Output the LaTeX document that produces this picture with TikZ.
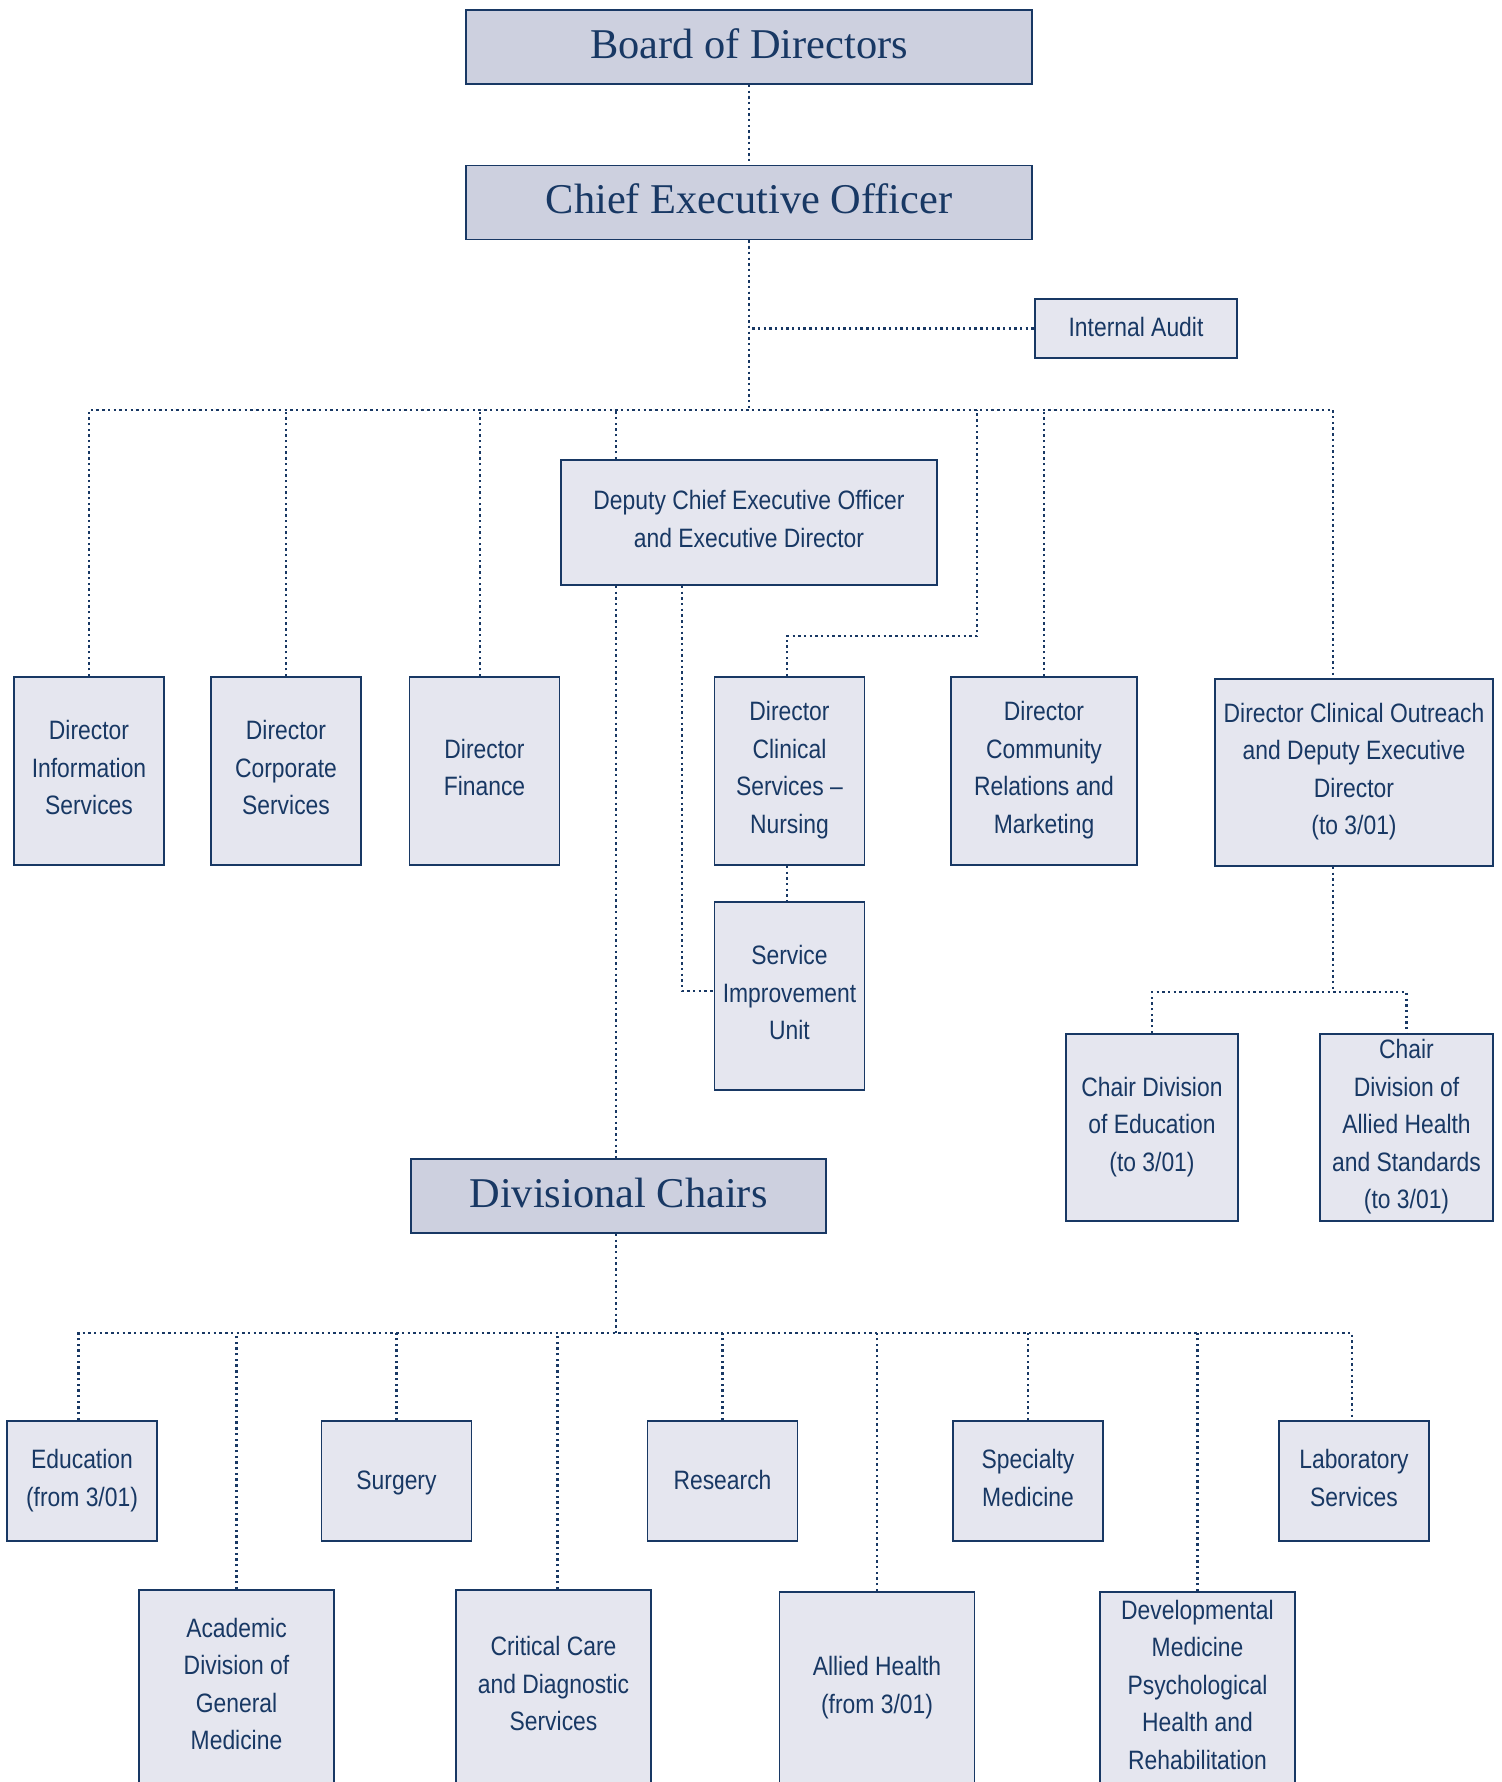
\documentclass[tikz,border=0pt]{standalone}
\usepackage{fontspec}
\newfontfamily\boxfont[FakeStretch=0.86]{Liberation Sans}
\newfontfamily\titlefont{Liberation Serif}
\definecolor{navy}{RGB}{24,56,100}
\definecolor{titlefill}{RGB}{205,208,223}
\definecolor{boxfill}{RGB}{229,230,239}
\newcommand\boxstrut{\rule[-3.4pt]{0pt}{14.9pt}}
\tikzset{
  basebox/.style={draw=navy, line width=0.9pt, text=navy, inner sep=0pt, align=center, anchor=center},
  titlebox/.style={basebox, fill=titlefill, font=\titlefont\fontsize{21.2}{24}\selectfont, minimum height=37pt, text height=14pt, text depth=2.8pt},
  orgbox/.style={basebox, fill=boxfill, font=\boxfont\fontsize{13.3}{18.75}\selectfont,
    execute at begin node=\boxstrut, execute at end node=\boxstrut},
  link/.style={draw=navy, line width=1.3pt, dash pattern=on 1.2pt off 1.65pt}
}
\begin{document}
\begin{tikzpicture}[x=0.5pt,y=-0.5pt]
\useasboundingbox (0,0) rectangle (1502,1782);
\clip (0,0) rectangle (1502,1782);
\fill[white] (0,0) rectangle (1502,1782);

% titles
\node[titlebox, minimum width=283pt] (board) at (749,47) {Board of Directors};
\node[titlebox, minimum width=283pt] (ceo) at (749,202.5) {Chief Executive Officer};
\node[titlebox, minimum width=207.5pt] (divc) at (618.5,1196) {Divisional Chairs};

% top level
\node[orgbox, minimum width=101pt, minimum height=29.5pt] (audit) at (1136,328.5) {Internal Audit};
\node[orgbox, minimum width=188pt, minimum height=62.5pt] (deputy) at (749,522.5) {Deputy Chief Executive Officer\\and Executive Director};

% directors row
\node[orgbox, minimum width=75pt, minimum height=94pt] (dis) at (89,771) {Director\\Information\\Services};
\node[orgbox, minimum width=75pt, minimum height=94pt] (dcs) at (286,771) {Director\\Corporate\\Services};
\node[orgbox, minimum width=75pt, minimum height=94pt] (fin) at (484.5,771) {Director\\Finance};
\node[orgbox, minimum width=75pt, minimum height=94pt] (nurs) at (789.5,771) {Director\\Clinical\\Services –\\Nursing};
\node[orgbox, minimum width=93pt, minimum height=94pt] (comm) at (1044,771) {Director\\Community\\Relations and\\Marketing};
\node[orgbox, minimum width=139pt, minimum height=93.5pt] (outr) at (1354,772.5) {Director Clinical Outreach\\and Deputy Executive\\Director\\(to 3/01)};

\node[orgbox, minimum width=75pt, minimum height=94pt] (siu) at (789.5,996) {Service\\Improvement\\Unit};
\node[orgbox, minimum width=86pt, minimum height=93.5pt] (ched) at (1152,1127.5) {Chair Division\\of Education\\(to 3/01)};
\node[orgbox, minimum width=86.5pt, minimum height=93.5pt] (chah) at (1406.5,1127.5) {Chair\\Division of\\Allied Health\\and Standards\\(to 3/01)};

% divisions row 1
\node[orgbox, minimum width=75pt, minimum height=60pt] (edu) at (82,1481) {Education\\(from 3/01)};
\node[orgbox, minimum width=75pt, minimum height=60pt] (surg) at (396.5,1481) {Surgery};
\node[orgbox, minimum width=75pt, minimum height=60pt] (res) at (722.5,1481) {Research};
\node[orgbox, minimum width=75pt, minimum height=60pt] (spec) at (1028,1481) {Specialty\\Medicine};
\node[orgbox, minimum width=75pt, minimum height=60pt] (lab) at (1354,1481) {Laboratory\\Services};

% divisions row 2
\node[orgbox, minimum width=97.5pt, minimum height=97pt] (acad) at (236.5,1687) {Academic\\Division of\\General\\Medicine};
\node[orgbox, minimum width=97.5pt, minimum height=97pt] (crit) at (553.5,1687) {Critical Care\\and Diagnostic\\Services};
\node[orgbox, minimum width=97.5pt, minimum height=96pt] (allied) at (877,1688) {Allied Health\\(from 3/01)};
\node[orgbox, minimum width=97.5pt, minimum height=96pt] (dev) at (1197.5,1688) {Developmental\\Medicine\\Psychological\\Health and\\Rehabilitation};

% connectors
\coordinate (bus) at (749,410);
\coordinate (nbend) at (977,636);
\coordinate (obus) at (1333,992);
\coordinate (dbus) at (618.5,1333);

\draw[link] (board.south) -- (ceo.north);
\draw[link] (ceo.south) |- (audit.west);
\draw[link] (ceo.south) -- (bus);
\draw[link] (dis.north) |- (bus) -| ([xshift=-10.5pt]outr.north);
\draw[link] (dcs.north) -- (dcs.north |- bus);
\draw[link] ([xshift=-2.25pt]fin.north) -- ([xshift=-2.25pt]fin.north |- bus);
\draw[link] ([xshift=-66.5pt]deputy.north) -- ([xshift=-66.5pt]deputy.north |- bus);
\draw[link] (comm.north) -- (comm.north |- bus);
\draw[link] ([xshift=-1.25pt]nurs.north) |- (nbend) -- (nbend |- bus);

\draw[link] ([xshift=-66.5pt]deputy.south) -- ([xshift=-66.5pt]deputy.south |- divc.north);
\draw[link] ([xshift=-33.5pt]deputy.south) |- ([yshift=2.5pt]siu.west);
\draw[link] ([xshift=-1.25pt]nurs.south) -- ([xshift=-1.25pt]siu.north);

\draw[link] ([xshift=-10.5pt]outr.south) -- (obus);
\draw[link] (ched.north) |- (obus) -| (chah.north);

\draw[link] ([xshift=-1.25pt]divc.south) -- ([xshift=-1.25pt]divc.south |- dbus);
\draw[link] ([xshift=-1.75pt]edu.north) |- (dbus) -| ([xshift=-1pt]lab.north);
\draw[link] (acad.north) -- (acad.north |- dbus);
\draw[link] (surg.north) -- (surg.north |- dbus);
\draw[link] ([xshift=2pt]crit.north) -- ([xshift=2pt]crit.north |- dbus);
\draw[link] (res.north) -- (res.north |- dbus);
\draw[link] (allied.north) -- (allied.north |- dbus);
\draw[link] (spec.north) -- (spec.north |- dbus);
\draw[link] (dev.north) -- (dev.north |- dbus);
\end{tikzpicture}
\end{document}
